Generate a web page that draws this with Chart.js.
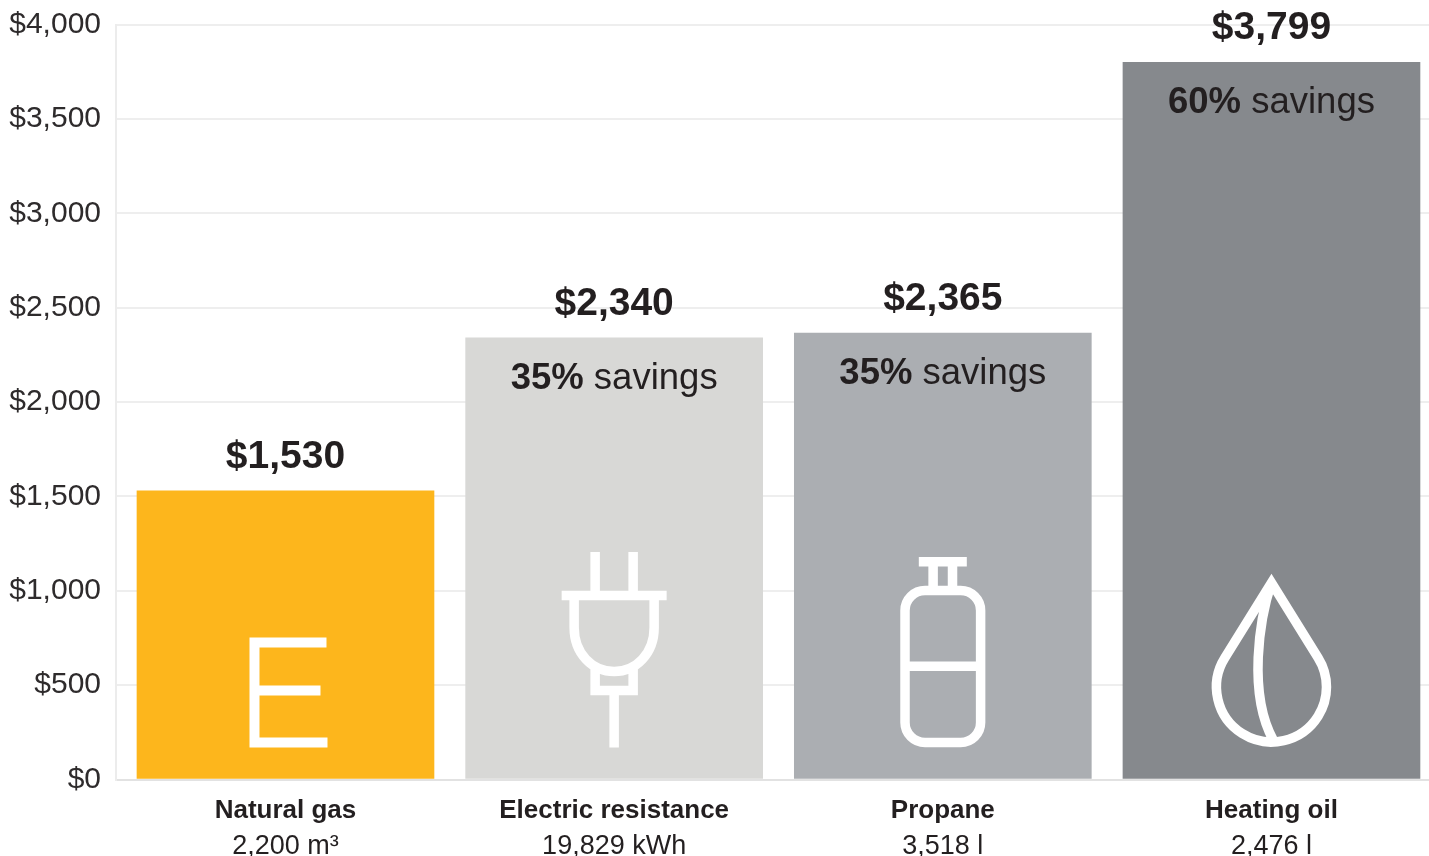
<!DOCTYPE html>
<html>
<head>
<meta charset="utf-8">
<title>Annual heating cost</title>
<script src="https://cdn.jsdelivr.net/npm/chart.js@4/dist/chart.umd.min.js"></script>
<style>
  html, body { margin: 0; padding: 0; background: #fff; overflow: hidden; }
  #wrap { width: 1429px; height: 856px; }
</style>
</head>
<body>
<div id="wrap"><canvas id="costChart" width="1429" height="856"></canvas></div>
<script>
// Data
const categories = ["Natural gas", "Electric resistance", "Propane", "Heating oil"];
const quantities = ["2,200 m³", "19,829 kWh", "3,518 l", "2,476 l"];
const costs = [1530, 2340, 2365, 3799];
const savings = [null, 35, 35, 60];
const icons = ["gas", "plug", "tank", "drop"];
const barColors = ["#FDB61C", "#D8D8D6", "#ABAEB2", "#86898D"];

const TEXT = "#231F20";
const FONT = '"Liberation Sans", Arial, sans-serif';

// white pictograms, offsets from the bar centre and the bar base
function drawIcon(c, kind, cx, base) {
  c.save();
  c.translate(cx, base);
  c.strokeStyle = "#fff";
  c.lineWidth = 9.5;
  c.lineCap = "butt";
  c.lineJoin = "miter";
  c.beginPath();
  if (kind === "gas") {
    c.lineWidth = 10;
    c.moveTo(41, -136); c.lineTo(-31, -136); c.lineTo(-31, -36); c.lineTo(42, -36);
    c.moveTo(-31, -88); c.lineTo(35, -88);
  } else if (kind === "plug") {
    c.moveTo(-19, -226.5); c.lineTo(-19, -183);
    c.moveTo(19, -226.5); c.lineTo(19, -183);
    c.moveTo(-52.5, -183); c.lineTo(52.5, -183);
    c.moveTo(-40, -183); c.lineTo(-40, -151);
    c.bezierCurveTo(-40, -125, -22, -107, 0, -107);
    c.bezierCurveTo(22, -107, 40, -125, 40, -151);
    c.lineTo(40, -183);
    c.moveTo(-19, -112); c.lineTo(-19, -88); c.lineTo(19, -88); c.lineTo(19, -112);
    c.moveTo(0, -88); c.lineTo(0, -31);
  } else if (kind === "tank") {
    c.moveTo(-24, -216.8); c.lineTo(24, -216.8);
    c.moveTo(-9.7, -216.8); c.lineTo(-9.7, -188);
    c.moveTo(9.7, -216.8); c.lineTo(9.7, -188);
    c.roundRect(-37.8, -188, 75.6, 152, 20);
    c.moveTo(-37.8, -112.3); c.lineTo(37.8, -112.3);
  } else if (kind === "drop") {
    const a = 57.9 * Math.PI / 180;
    c.moveTo(0, -195.8);
    c.arc(0, -91.5, 55, -Math.PI / 2 - a, -Math.PI / 2 + a, true);
    c.closePath();
    c.moveTo(0, -195.8);
    c.bezierCurveTo(-12, -160, -24, -85, 2, -38);
  }
  c.stroke();
  c.restore();
}

// value labels, savings and pictograms on top of the bars
const barExtras = {
  id: "barExtras",
  afterDatasetsDraw(chart) {
    const c = chart.ctx;
    const bars = chart.getDatasetMeta(0).data;
    bars.forEach((bar, i) => {
      c.save();
      c.fillStyle = TEXT;
      c.textBaseline = "alphabetic";
      c.textAlign = "center";
      c.font = "bold 39px " + FONT;
      c.fillText("$" + costs[i].toLocaleString("en-US"), bar.x, bar.y - 23);
      if (savings[i] !== null) {
        const pct = savings[i] + "%";
        const rest = " savings";
        c.textAlign = "left";
        c.font = "bold 36.5px " + FONT;
        const w1 = c.measureText(pct).width;
        c.font = "36.5px " + FONT;
        const w2 = c.measureText(rest).width;
        const x0 = bar.x - (w1 + w2) / 2;
        c.font = "bold 36.5px " + FONT;
        c.fillText(pct, x0, bar.y + 51);
        c.font = "36.5px " + FONT;
        c.fillText(rest, x0 + w1, bar.y + 51);
      }
      c.restore();
      drawIcon(c, icons[i], bar.x, bar.base);
    });
  }
};

const ctx = document.getElementById("costChart").getContext("2d");
new Chart(ctx, {
  type: "bar",
  data: {
    datasets: [{
      data: costs.map((v, i) => ({ x: i, y: v })),
      backgroundColor: barColors,
      barThickness: 297,
      borderWidth: 0
    }]
  },
  plugins: [barExtras],
  options: {
    responsive: false,
    animation: false,
    layout: { padding: { top: 24.5 } },
    plugins: { legend: { display: false }, tooltip: { enabled: false } },
    scales: {
      x: {
        type: "linear",
        position: "bottom",
        offset: false,
        min: -0.5157,
        max: 3.4793,
        grid: { display: false },
        border: { display: false },
        afterFit(s) { s.height = 48; },
        ticks: {
          stepSize: 1,
          includeBounds: false,
          autoSkip: false,
          maxRotation: 0,
          padding: 8,
          color: TEXT,
          font: { family: FONT, size: 26, weight: "bold" },
          callback: v => categories[v]
        }
      },
      x2: {
        type: "linear",
        position: "bottom",
        offset: false,
        min: -0.5157,
        max: 3.4793,
        grid: { display: false },
        border: { display: false },
        afterFit(s) { s.height = 28.5; },
        ticks: {
          stepSize: 1,
          includeBounds: false,
          autoSkip: false,
          maxRotation: 0,
          padding: -5,
          color: TEXT,
          font: { family: FONT, size: 27 },
          callback: v => quantities[v]
        }
      },
      y: {
        min: 0,
        max: 4000,
        afterFit(s) { s.width = 116; s.paddingTop = 0; s.paddingBottom = 0; },
        border: { display: true, color: "#ececec", width: 2 },
        grid: {
          drawTicks: false,
          lineWidth: 2,
          color: c => c.tick.value === 0 ? "#e2e2e2" : "#eeeeee"
        },
        ticks: {
          stepSize: 500,
          padding: 15,
          color: "#2e2b2c",
          font: { family: FONT, size: 30 },
          callback: v => "$" + v.toLocaleString("en-US")
        }
      }
    }
  }
});
</script>
</body>
</html>
